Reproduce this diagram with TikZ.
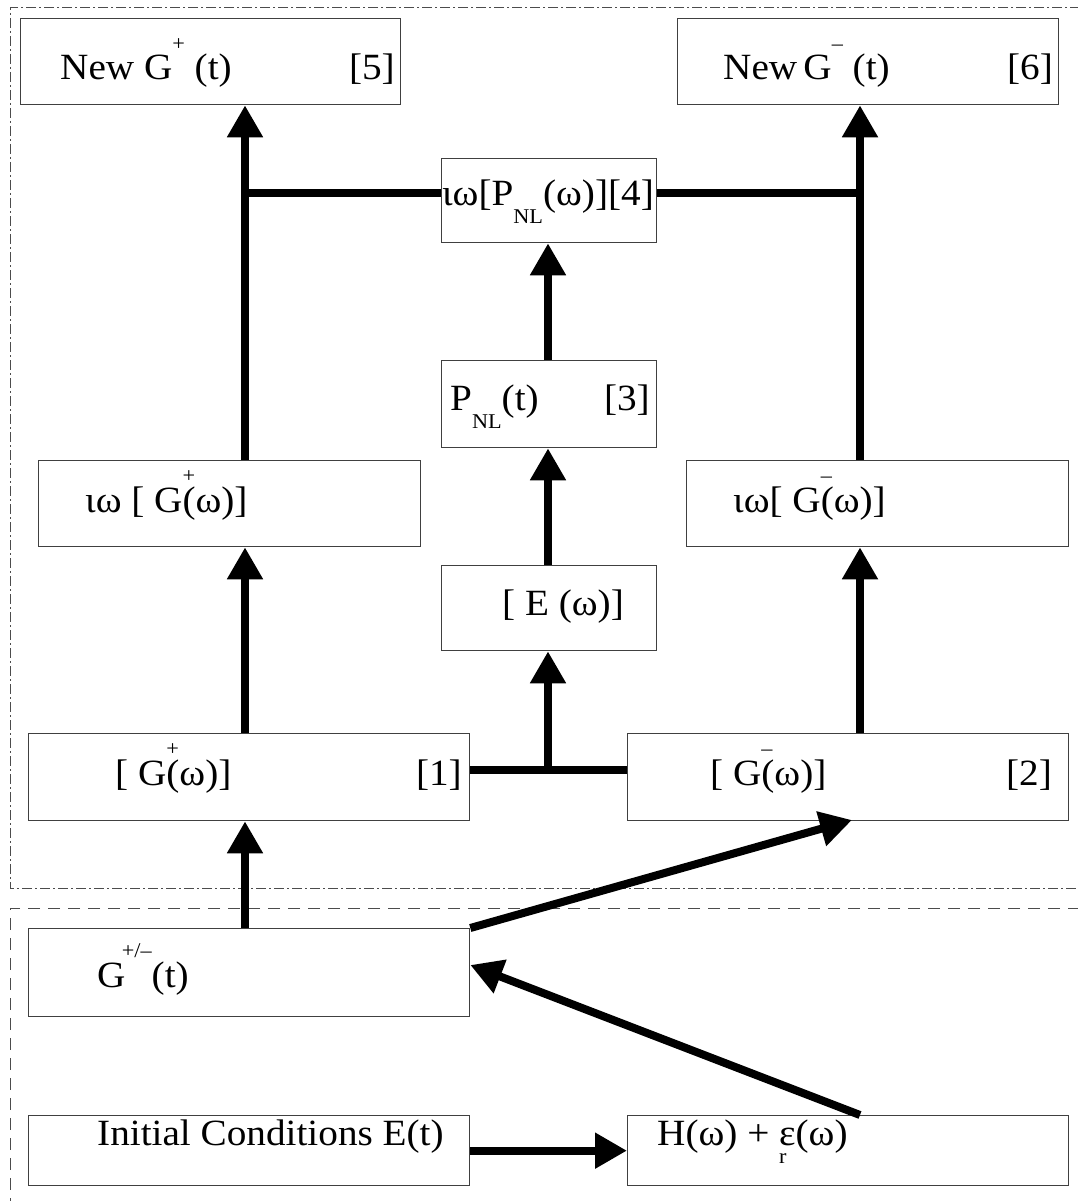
\documentclass[tikz,border=0pt]{standalone}
\usepackage{fontspec}
\setmainfont{Liberation Serif}[FakeStretch=1.06]
\usetikzlibrary{arrows.meta,calc}
\newcommand{\upx}[1]{\raisebox{0.8em}{\fontsize{21}{21}\selectfont #1}}
\newcommand{\dnx}[1]{\raisebox{-0.5em}{\fontsize{21}{21}\selectfont #1}}
\begin{document}
\begin{tikzpicture}[x=1pt,y=-1pt,
  box/.style={draw=black!75,line width=1.3pt,anchor=north west,inner sep=0pt},
  lbl/.style={anchor=base west,inner sep=0pt,font=\fontsize{37}{44}\selectfont},
  lblr/.style={anchor=base east,inner sep=0pt,font=\fontsize{37}{44}\selectfont},
  conn/.style={line width=8pt},
  arr/.style={line width=8pt,-{Triangle[width=34pt,length=32pt]}},
  framedd/.style={draw=black!70,line width=1pt,dash pattern=on 10pt off 3pt on 2pt off 3pt},
  framed/.style={draw=black!70,line width=1pt,dash pattern=on 12pt off 8pt},
]
\useasboundingbox (0,0) rectangle (1077,1201);
\fill[white] (0,0) rectangle (1077,1201);

% frames
\draw[framedd] (1080,8) -- (10,8) -- (10,888) -- (1080,888);
\draw[framed] (1080,908) -- (10,908) -- (10,1210);

% boxes
\node[box,minimum width=380pt,minimum height=86pt] (b5) at (20,18) {};
\node[box,minimum width=381pt,minimum height=86pt] (b6) at (677,18) {};
\node[box,minimum width=215pt,minimum height=84pt] (b4) at (441,158) {};
\node[box,minimum width=215pt,minimum height=87pt] (b3) at (441,360) {};
\node[box,minimum width=382pt,minimum height=86pt] (bgp) at (38,460) {};
\node[box,minimum width=382pt,minimum height=86pt] (bgm) at (686,460) {};
\node[box,minimum width=215pt,minimum height=85pt] (be) at (441,565) {};
\node[box,minimum width=441pt,minimum height=87pt] (b1) at (28,733) {};
\node[box,minimum width=441pt,minimum height=87pt] (b2) at (627,733) {};
\node[box,minimum width=441pt,minimum height=88pt] (bg) at (28,928) {};
\node[box,minimum width=441pt,minimum height=70pt] (bi) at (28,1115) {};
\node[box,minimum width=441pt,minimum height=70pt] (bh) at (627,1115) {};

% helper coordinates
\coordinate (cl) at (245,0);
\coordinate (cr) at (860,0);
\coordinate (cm) at (548,0);
\coordinate (yt) at (0,193);
\coordinate (ym) at (0,770);
\coordinate (ye) at (0,965);
\coordinate (tip2) at (852,820);

% connectors
\draw[arr] (bg.north -| cl) -- (b1.south -| cl);
\draw[arr] (b1.north -| cl) -- (bgp.south -| cl);
\draw[arr] (bgp.north -| cl) -- (b5.south -| cl);
\draw[conn] (cl |- yt) -- (b4.west |- yt);
\draw[arr] (b2.north -| cr) -- (bgm.south -| cr);
\draw[arr] (bgm.north -| cr) -- (b6.south -| cr);
\draw[conn] (b4.east |- yt) -- (cr |- yt);
\draw[conn] (b1.east |- ym) -- (b2.west |- ym);
\draw[arr] (cm |- ym) -- (be.south -| cm);
\draw[arr] (be.north -| cm) -- (b3.south -| cm);
\draw[arr] (b3.north -| cm) -- (b4.south -| cm);
\draw[arr] (bg.north east) -- (tip2);
\draw[arr] (bh.north -| cr) -- (bg.east |- ye);
\draw[arr] (bi.east) -- (bh.west);

% texts
\node[lbl] (t5) at (60,80) {New G\upx{+} (t)};
\node[lblr] (n5) at (395,80) {[5]};
\node[lbl] (t6) at (723,80) {New\,G\upx{–} (t)};
\node[lblr] (n6) at (1053,80) {[6]};
\node[lbl,anchor=base] (t4) at (548,205) {ιω[P\dnx{NL}(ω)][4]};
\node[lbl] (t3) at (450,410) {P\dnx{NL}(t)};
\node[lblr] (n3) at (650,410) {[3]};
\node[lbl] (tgp) at (85,512) {ιω [ G\rlap{\upx{+}}(ω)]};
\node[lbl] (tgm) at (733,512) {ιω[ G\rlap{\upx{–}}(ω)]};
\node[lbl] (te) at (502,615) {[ E (ω)]};
\node[lbl] (t1) at (115,785) {[ G\rlap{\upx{+}}(ω)]};
\node[lblr] (n1) at (462,785) {[1]};
\node[lbl] (t2) at (710,785) {[ G\rlap{\upx{–}}(ω)]};
\node[lblr] (n2) at (1052,785) {[2]};
\node[lbl] (tg) at (97,987) {G\kern-0.1em\upx{+/–}(t)};
\node[lbl] (ti) at (97,1145) {Initial Conditions E(t)};
\node[lbl] (th) at (657,1145) {H(ω) + \rlap{\dnx{r}}ε(ω)};
\end{tikzpicture}
\end{document}
